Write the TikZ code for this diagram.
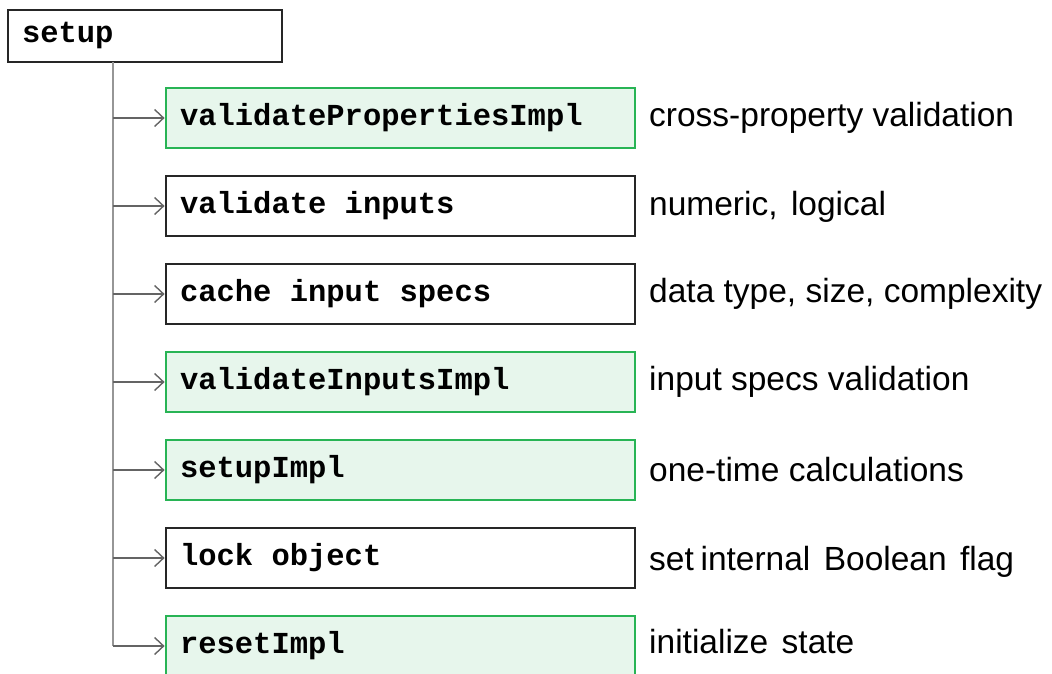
\documentclass[tikz,border=0pt]{standalone}
\usepackage{fontspec}
\setmainfont{Liberation Sans}
\setmonofont{Liberation Mono}
\usetikzlibrary{arrows.meta}
\definecolor{boxgreen}{RGB}{40,180,85}
\definecolor{fillgreen}{RGB}{231,246,236}
\definecolor{trunkgray}{RGB}{150,150,150}
\definecolor{arrowgray}{RGB}{100,100,100}
\newcommand\csp{\hspace*{0.6em}}
\newcommand\wgap{\hspace*{0.4em}}
\tikzset{
  stepbase/.style={rectangle, minimum width=469pt, minimum height=60pt, inner xsep=14pt,
    text width=441pt, align=left, font=\fontsize{30.5}{32}\selectfont\ttfamily\bfseries, line width=2.8pt},
  plainbox/.style={stepbase, draw=black!85, fill=white},
  greenbox/.style={stepbase, draw=boxgreen, fill=fillgreen},
  note/.style={anchor=west, inner sep=0pt, font=\fontsize{33.5}{36}\selectfont},
  feed/.style={draw=arrowgray, line width=1.4pt, -{Straight Barb[length=9pt,width=17pt,line width=1.4pt]}},
}
\begin{document}
\begin{tikzpicture}[x=1pt,y=-1pt]
\useasboundingbox (0,0) rectangle (1052,674);
\node[rectangle, draw=black!85, line width=2.8pt, minimum width=274pt, minimum height=52pt,
  inner xsep=14pt, text width=246pt, align=left, font=\fontsize{30.5}{32}\selectfont\ttfamily\bfseries]
  (setup) at (145,36) {setup};
\coordinate (top) at (113,62);
\coordinate (bottom) at (113,646);
\draw[trunkgray, line width=2.6pt] (top) -- (bottom);

\node[greenbox] (b1) at (400.5,118) {validatePropertiesImpl};
\node[plainbox] (b2) at (400.5,206) {validate\csp inputs};
\node[plainbox] (b3) at (400.5,294) {cache\csp input\csp specs};
\node[greenbox] (b4) at (400.5,382) {validateInputsImpl};
\node[greenbox] (b5) at (400.5,470) {setupImpl};
\node[plainbox] (b6) at (400.5,558) {lock\csp object};
\node[greenbox] (b7) at (400.5,646) {resetImpl};

\foreach \b in {b1,b2,b3,b4,b5,b6,b7} {
  \draw[feed] (\b.west -| top) -- (\b.west);
}

\node[note] (n1) at (649,118) {cross-property validation};
\node[note] (n2) at (649,207) {numeric,\wgap logical};
\node[note] (n3) at (649,294) {data type, size, complexity};
\node[note] (n4) at (649,382) {input specs validation};
\node[note] (n5) at (649,470) {one-time calculations};
\node[note] (n6) at (649,562) {set\hspace*{0.2em}internal\wgap Boolean\wgap flag};
\node[note] (n7) at (649,642) {initialize\wgap state};
\end{tikzpicture}
\end{document}
